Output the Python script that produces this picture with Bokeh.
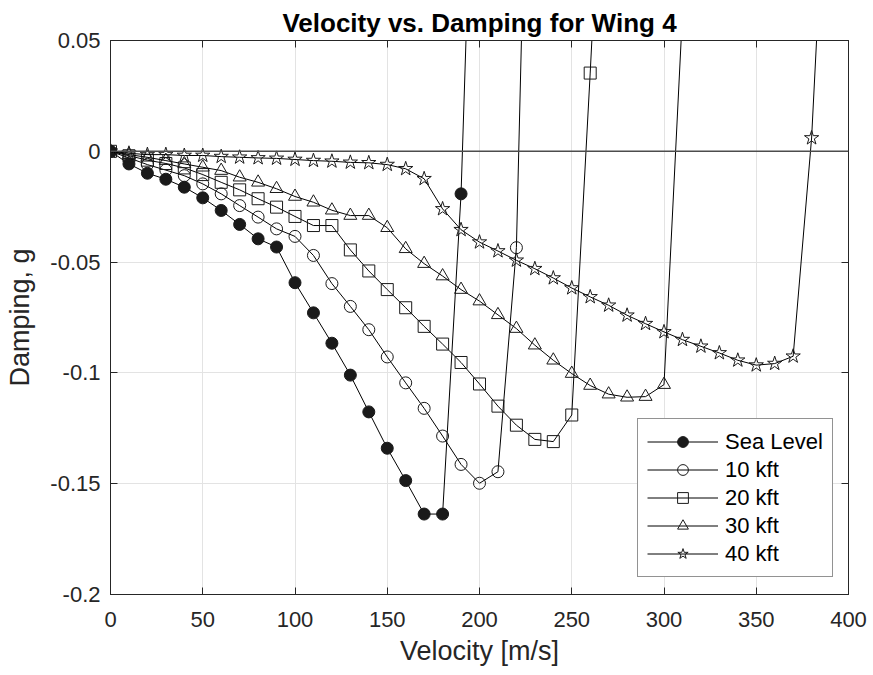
from bokeh.plotting import figure
from bokeh.models import (Range1d, LinearAxis, FixedTicker, PrintfTickFormatter,
                          Span, Legend, LegendItem)
from bokeh.embed import file_html
from bokeh.resources import INLINE

# ---------------- data ----------------
vel_sea = [0, 10, 20, 30, 40, 50, 60, 70, 80, 90, 100, 110, 120, 130, 140, 150, 160, 170, 180, 190, 200]
damp_sea = [0, -0.0057, -0.0099, -0.0126, -0.0162, -0.021, -0.0267, -0.033, -0.0395, -0.0432,
            -0.0593, -0.0729, -0.0866, -0.101, -0.1176, -0.134, -0.1486, -0.1637, -0.1637, -0.0192, 0.24]

vel_10 = [0, 10, 20, 30, 40, 50, 60, 70, 80, 90, 100, 110, 120, 130, 140, 150, 160, 170, 180, 190,
          200, 210, 220, 230]
damp_10 = [0, -0.003, -0.006, -0.0085, -0.011, -0.0147, -0.0192, -0.0245, -0.0297, -0.035, -0.0384,
           -0.047, -0.0597, -0.07, -0.0805, -0.0928, -0.1045, -0.116, -0.1285, -0.1413, -0.1498,
           -0.1446, -0.0435, 0.30]

vel_20 = [0, 10, 20, 30, 40, 50, 60, 70, 80, 90, 100, 110, 120, 130, 140, 150, 160, 170, 180, 190,
          200, 210, 220, 230, 240, 250, 260, 270]
damp_20 = [0, -0.002, -0.004, -0.0055, -0.0075, -0.0105, -0.014, -0.0174, -0.0214, -0.0252, -0.0294,
           -0.0335, -0.0335, -0.0445, -0.054, -0.0624, -0.0706, -0.079, -0.087, -0.0953, -0.105,
           -0.115, -0.1236, -0.130, -0.131, -0.119, 0.0353, 0.20]

vel_30 = [0, 10, 20, 30, 40, 50, 60, 70, 80, 90, 100, 110, 120, 130, 140, 150, 160, 170, 180, 190,
          200, 210, 220, 230, 240, 250, 260, 270, 280, 290, 300, 310]
damp_30 = [0, -0.0015, -0.0027, -0.0042, -0.0057, -0.0072, -0.0087, -0.0117, -0.014, -0.0169,
           -0.0204, -0.023, -0.0266, -0.029, -0.029, -0.0345, -0.044, -0.0507, -0.0563, -0.0624,
           -0.0676, -0.0738, -0.08, -0.0875, -0.0943, -0.1003, -0.1057, -0.1096, -0.111, -0.1107,
           -0.1053, 0.062]

vel_40 = [0, 10, 20, 30, 40, 50, 60, 70, 80, 90, 100, 110, 120, 130, 140, 150, 160, 170, 180, 190,
          200, 210, 220, 230, 240, 250, 260, 270, 280, 290, 300, 310, 320, 330, 340, 350, 360, 370,
          380, 390]
damp_40 = [0, -0.0009, -0.0015, -0.0015, -0.0019, -0.0019, -0.0024, -0.0027, -0.003, -0.0032,
           -0.0037, -0.0042, -0.0045, -0.005, -0.0052, -0.006, -0.0079, -0.0124, -0.026, -0.0354,
           -0.041, -0.045, -0.0492, -0.053, -0.0572, -0.0617, -0.0657, -0.0695, -0.074, -0.0778,
           -0.0815, -0.085, -0.088, -0.091, -0.0943, -0.0965, -0.0958, -0.0925, 0.006, 0.17]

series_labels = ["Sea Level", "10 kft", "20 kft", "30 kft", "40 kft"]
x_ticks = [0, 50, 100, 150, 200, 250, 300, 350, 400]
y_ticks = [-0.2, -0.15, -0.1, -0.05, 0, 0.05]

# ---------------- styling ----------------
FONT = "Liberation Sans"
AX = "#262626"

p = figure(width=873, height=675, x_range=Range1d(0, 400), y_range=Range1d(-0.2, 0.05),
           output_backend="svg", toolbar_location=None,
           min_border_left=110, min_border_right=25, min_border_top=40, min_border_bottom=81)
p.background_fill_color = "white"
p.border_fill_color = "white"
p.outline_line_color = AX
p.outline_line_width = 1

p.title.text = "Velocity vs. Damping for Wing 4"
p.title.align = "center"
p.title.text_font = FONT
p.title.text_font_size = "26px"
p.title.text_font_style = "bold"
p.title.text_color = "black"
p.title.standoff = 6

xt = FixedTicker(ticks=x_ticks)
yt = FixedTicker(ticks=y_ticks)

p.xaxis.ticker = xt
p.yaxis.ticker = yt
p.yaxis.formatter = PrintfTickFormatter(format="%g")
p.xgrid.ticker = xt
p.ygrid.ticker = yt
p.xgrid.grid_line_color = "#e3e3e3"
p.ygrid.grid_line_color = "#e3e3e3"

for ax in (p.xaxis[0], p.yaxis[0]):
    ax.axis_line_color = AX
    ax.major_tick_line_color = AX
    ax.major_tick_in = 7
    ax.major_tick_out = 0
    ax.minor_tick_line_color = None
    ax.major_label_text_font = FONT
    ax.major_label_text_font_size = "22px"
    ax.major_label_text_color = AX
    ax.axis_label_text_font = FONT
    ax.axis_label_text_font_size = "27px"
    ax.axis_label_text_font_style = "normal"
    ax.axis_label_text_color = AX

p.xaxis.major_label_standoff = 17
p.yaxis.major_label_standoff = 10
p.xaxis.axis_label = "Velocity [m/s]"
p.yaxis.axis_label = "Damping, g"
p.xaxis.axis_label_standoff = 6
p.yaxis.axis_label_standoff = 12

# box axes (top & right) with inward ticks, labels not drawn
top = LinearAxis(ticker=xt, major_label_text_font_size="1px", major_label_text_color=None,
                 axis_line_color=AX, major_tick_line_color=AX, major_tick_in=7, major_tick_out=0,
                 minor_tick_line_color=None, major_label_standoff=0)
right = LinearAxis(ticker=yt, major_label_text_font_size="1px", major_label_text_color=None,
                   axis_line_color=AX, major_tick_line_color=AX, major_tick_in=7, major_tick_out=0,
                   minor_tick_line_color=None, major_label_standoff=0)
p.add_layout(top, "above")
p.add_layout(right, "right")

# zero line
p.add_layout(Span(location=0, dimension="width", line_color="#4d4d4d", line_width=1.5))

LINE = "black"
MK = "#1a1a1a"

series = [
    (vel_sea, damp_sea, "circle", 12, MK, 1.0),
    (vel_10, damp_10, "circle", 12, None, 0.0),
    (vel_20, damp_20, "square", 12, None, 0.0),
    (vel_30, damp_30, "triangle", 13, None, 0.0),
    (vel_40, damp_40, "star", 15, None, 0.0),
]

items = []
for (xs, ys, marker, size, fill, falpha), label in zip(series, series_labels):
    lr = p.line(xs, ys, line_color=LINE, line_width=1)
    sr = p.scatter(xs, ys, marker=marker, size=size, line_color=MK, line_width=1,
                   fill_color=fill if fill else "white", fill_alpha=falpha)
    items.append(LegendItem(label=label, renderers=[lr, sr]))

legend = Legend(items=items, location=(527, 17))
legend.label_text_font = FONT
legend.label_text_font_size = "22px"
legend.label_text_color = "black"
legend.glyph_width = 71
legend.glyph_height = 27
legend.label_height = 27
legend.label_standoff = 7
legend.spacing = 1
legend.padding = 9
legend.margin = 0
legend.border_line_color = AX
legend.border_line_width = 1
legend.background_fill_color = "white"
legend.background_fill_alpha = 1
p.add_layout(legend)

open("out.html", "w").write(file_html(p, INLINE))
